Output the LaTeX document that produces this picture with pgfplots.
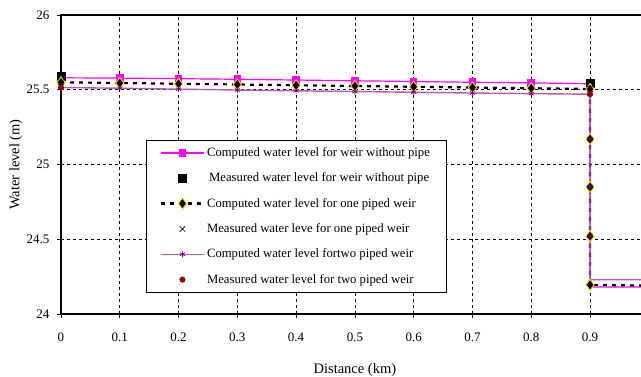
\documentclass[border=0pt]{standalone}
\usepackage{fontspec}
\setmainfont{Liberation Serif}
\usepackage{pgfplots}
\pgfplotsset{compat=1.18}

\definecolor{noPipe}{RGB}{255,0,255}
\definecolor{twoLine}{RGB}{180,90,180}
\definecolor{twoMark}{RGB}{120,0,120}
\definecolor{measRed}{RGB}{140,10,10}
\definecolor{diaEdge}{RGB}{255,225,0}

\begin{document}
\begin{tikzpicture}
\begin{axis}[
  at={(0,0)}, anchor=south west,
  scale only axis,
  width=587.8pt, height=299pt,
  xmin=0, xmax=1, ymin=24, ymax=26,
  xtick={0,0.1,...,0.91},
  ytick={24,24.5,25,25.5,26},
  xticklabels={0,0.1,0.2,0.3,0.4,0.5,0.6,0.7,0.8,0.9},
  yticklabels={24,24.5,25,25.5,26},
  xtick pos=left, ytick pos=left,
  tick align=outside,
  major tick length=4pt,
  tick style={black, line width=0.8pt},
  axis line style={black, line width=1.3pt},
  grid=major,
  major grid style={black, line width=0.6pt, dash pattern=on 3pt off 3pt},
  ticklabel style={font=\fontsize{13}{15}\selectfont},
  xticklabel style={yshift=-11pt},
  yticklabel style={xshift=-4pt},
  xlabel={Distance (km)},
  ylabel={Water level (m)},
  label style={font=\fontsize{14.5}{17}\selectfont},
  xlabel style={at={([yshift=-56pt]rel axis cs:0.5,0)}, anchor=center},
  ylabel style={at={([xshift=-45pt]rel axis cs:0,0.5)}, anchor=center},
  clip=false,
  legend cell align=left,
  legend style={
    at={(rel axis cs:0.144,0.582)}, anchor=north west,
    draw=black,
    font=\fontsize{12.7}{15}\selectfont,
    inner xsep=14pt, inner ysep=5.5pt,
    row sep=10.9pt,
  },
  legend image code/.code={%
    \draw[mark indices={2}, #1]
      plot coordinates {(0pt,0pt) (21.5pt,0pt) (43pt,0pt)};},
]

% computed water level, weir without pipe
\addplot[color=noPipe, line width=1.2pt, mark=square*, mark size=3.2pt,
  mark indices={1,...,10},
  mark options={solid, fill=noPipe, draw=noPipe}]
  coordinates {
  (0,25.58) (0.1,25.578) (0.2,25.574) (0.3,25.57) (0.4,25.565)
  (0.5,25.56) (0.6,25.555) (0.7,25.55) (0.8,25.546) (0.9,25.54)
  (0.9,25.17) (0.9,24.85) (0.9,24.52) (0.9,24.18)
  (1.0,24.18) (1.1,24.18)};
\addlegendentry{Computed water level for weir without pipe}

% measured water level, weir without pipe
\addplot[only marks, mark=square*, mark size=3.8pt,
  mark options={fill=black, draw=black}]
  coordinates {(0,25.59) (0.9,25.545)};
\addlegendentry{\,Measured water level for weir without pipe}

% computed water level, one piped weir
\addplot[black, line width=2.2pt, dash pattern=on 4pt off 5pt,
  mark=diamond*, mark size=5.5pt,
  mark indices={1,...,14},
  mark options={solid, fill=black, draw=diaEdge, line width=0.9pt}]
  coordinates {
  (0,25.55) (0.1,25.545) (0.2,25.54) (0.3,25.535) (0.4,25.53)
  (0.5,25.525) (0.6,25.52) (0.7,25.515) (0.8,25.51) (0.9,25.505)
  (0.9,25.17) (0.9,24.85) (0.9,24.52) (0.9,24.195)
  (1.0,24.19) (1.1,24.19)};
\addlegendentry{Computed water level for one piped weir}

% measured water level, one piped weir
\addplot[only marks, mark=x, mark size=4pt,
  mark options={black, line width=0.6pt}]
  coordinates {(0,25.55) (0.9,25.505)};
\addlegendentry{Measured water leve for one piped weir}

% computed water level, two piped weir
\addplot[color=twoLine, line width=1.4pt, mark=asterisk, mark size=3pt,
  mark indices={1,...,13},
  mark options={solid, draw=twoMark, line width=0.7pt}]
  coordinates {
  (0,25.515) (0.1,25.51) (0.2,25.504) (0.3,25.498) (0.4,25.493)
  (0.5,25.488) (0.6,25.483) (0.7,25.478) (0.8,25.474) (0.9,25.47)
  (0.9,25.17) (0.9,24.85) (0.9,24.52) (0.9,24.23)
  (1.0,24.23) (1.1,24.23)};
\addlegendentry{Computed water level fortwo piped weir}

% measured water level, two piped weir
\addplot[only marks, mark=*, mark size=2.8pt,
  mark options={fill=measRed, draw=measRed}]
  coordinates {(0,25.515) (0.9,25.47)};
\addlegendentry{Measured water level for two piped weir}

\end{axis}
\pgfresetboundingbox
\useasboundingbox (-61pt,-63pt) rectangle (580pt,314pt);
\end{tikzpicture}
\end{document}
